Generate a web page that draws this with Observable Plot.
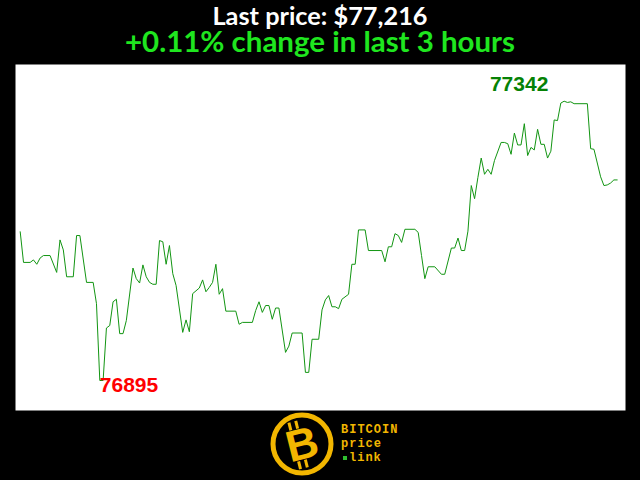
<!DOCTYPE html>
<html><head><meta charset="utf-8">
<script src="https://cdn.jsdelivr.net/npm/d3@7"></script>
<script src="https://cdn.jsdelivr.net/npm/@observablehq/plot@0.6"></script>
<style>
html,body{margin:0;padding:0;background:#000;width:640px;height:480px;overflow:hidden;}
#wrap{position:relative;width:640px;height:480px;background:#000;}
.hd{position:absolute;left:0;width:640px;text-align:center;font-family:Lato,sans-serif;font-weight:bold;white-space:nowrap;overflow:visible;}
.hd span{display:inline-block;transform-origin:50% 50%;}
#title{top:5.7px;height:20px;line-height:20px;font-size:24px;color:#fff;}
#sub{top:28.8px;height:24px;line-height:24px;font-size:29px;color:#1fe61f;}
#chart{position:absolute;left:0;top:64px;}
#logo{position:absolute;left:0;top:410px;}
</style>
</head><body>
<div id="wrap">
<div class="hd" id="title"><span></span></div>
<div class="hd" id="sub"><span></span></div>
<div id="chart"></div>
<svg id="logo" width="640" height="70">
  <circle cx="302" cy="34" r="29" fill="#000" stroke="#f2b600" stroke-width="5"/>
  <g transform="translate(302,34) rotate(-14)">
    <rect x="-9" y="-24" width="3" height="8" fill="#f2b600"/>
    <rect x="-2" y="-24" width="3" height="8" fill="#f2b600"/>
    <rect x="-9" y="16" width="3" height="8" fill="#f2b600"/>
    <rect x="-2" y="16" width="3" height="8" fill="#f2b600"/>
    <text x="0" y="15" text-anchor="middle" fill="#f2b600" font-family="Liberation Sans, Arial, sans-serif" font-weight="bold" font-size="44">B</text>
  </g>
  <text x="341" y="23" fill="#f2b600" font-family="Liberation Mono, DejaVu Sans Mono, monospace" font-weight="bold" font-size="12" letter-spacing="1">BITCOIN</text>
  <text x="341" y="37" fill="#f2b600" font-family="Liberation Mono, DejaVu Sans Mono, monospace" font-weight="bold" font-size="12" letter-spacing="1">price</text>
  <rect x="343" y="46" width="4" height="4" fill="#2fbf2f"/>
  <text x="349" y="51" fill="#f2b600" font-family="Liberation Mono, DejaVu Sans Mono, monospace" font-weight="bold" font-size="12" letter-spacing="1">link</text>
</svg>
</div>
<script>
// minutes since start of the 3-hour window
const minutes = [0,1,3,4,5,6,7,9,11,12,13,14,16,17,18,20,22,23,24,25,
  26,27,28,29,30,31,32,34,35,36,37,38,39,40,41,42,43,44,45,46,
  47,49,50,51,52,54,55,56,57,58,59,60,61,62,65,66,67,70,71,72,
  73,74,75,76,77,78,80,81,82,85,86,87,88,90,91,92,93,94,95,96,
  97,99,100,101,102,104,105,109,110,111,112,113,114,115,116,119,120,121,122,123,
  125,127,128,130,131,132,133,134,135,136,137,138,139,140,141,142,143,145,146,147,
  148,149,150,151,152,153,154,155,156,157,158,159,160,161,162,163,164,165,166,167,
  171,172,173,175,176,177,178,179,180];
const prices = [77133,77084,77084,77088,77081,77091,77095,77095,77068,77120,77104,77061,77061,77127,77127,77052,77052,77018,76895,76895,
  76979,76983,77021,77025,76970,76970,76991,77075,77058,77051,77080,77061,77052,77049,77049,77119,77117,77081,77111,77066,
  77047,76972,76992,76973,77034,77043,77056,77037,77044,77052,77081,77033,77042,77006,77006,76985,76988,76988,77007,77021,
  77004,77015,77015,76993,77011,77011,76940,76950,76971,76971,76908,76908,76961,76961,77008,77024,77031,77013,77013,77010,
  77025,77033,77081,77081,77136,77136,77103,77103,77085,77109,77109,77130,77127,77116,77137,77137,77132,77095,77058,77077,
  77077,77065,77065,77107,77107,77123,77103,77103,77134,77207,77186,77220,77251,77225,77233,77225,77247,77276,77276,77274,
  77257,77291,77272,77272,77306,77255,77268,77264,77297,77273,77273,77251,77262,77312,77311,77339,77342,77340,77341,77338,
  77338,77266,77265,77221,77207,77208,77211,77216,77216];
const lastPrice = 77216;
const changePct = 0.11;
const hours = 3;

function fitText(id, str, font, target) {
  const span = document.querySelector("#" + id + " span");
  span.textContent = str;
  const ctx = document.createElement("canvas").getContext("2d");
  ctx.font = font;
  const w = ctx.measureText(str).width;
  span.style.transform = "scaleX(" + (target / w) + ")";
}
fitText("title", "Last price: $" + d3.format(",")(lastPrice), "bold 24px Lato", 215);
fitText("sub", "+" + changePct.toFixed(2) + "% change in last " + hours + " hours", "bold 29px Lato", 390);

const data = minutes.map((m, i) => ({t: m, price: prices[i]}));
const maxI = d3.maxIndex(prices), minI = d3.minIndex(prices);

const chart = Plot.plot({
  width: 640, height: 346,
  marginLeft: 15, marginRight: 15, marginTop: 0, marginBottom: 0,
  insetLeft: 4.7, insetRight: 8.3, insetTop: 36.7, insetBottom: 30,
  x: {domain: [0, 180], axis: null},
  y: {domain: d3.extent(prices), axis: null},
  style: {background: "#000", overflow: "visible"},
  marks: [
    Plot.frame({fill: "#ffffff", stroke: "none"}),
    Plot.line(data, {x: "t", y: "price", stroke: "#129512", strokeWidth: 1}),
    Plot.text([data[maxI]], {x: "t", y: "price", text: d => String(d.price),
      textAnchor: "middle", lineAnchor: "bottom", dx: -45, dy: -10,
      fill: "#058205", fontSize: 21, fontWeight: "bold", fontFamily: "Liberation Sans, Arial, sans-serif"}),
    Plot.text([data[minI]], {x: "t", y: "price", text: d => String(d.price),
      textAnchor: "start", lineAnchor: "bottom", dx: 0, dy: 11,
      fill: "#ff0000", fontSize: 21, fontWeight: "bold", fontFamily: "Liberation Sans, Arial, sans-serif"})
  ]
});
document.getElementById("chart").appendChild(chart);
</script>
</body></html>
